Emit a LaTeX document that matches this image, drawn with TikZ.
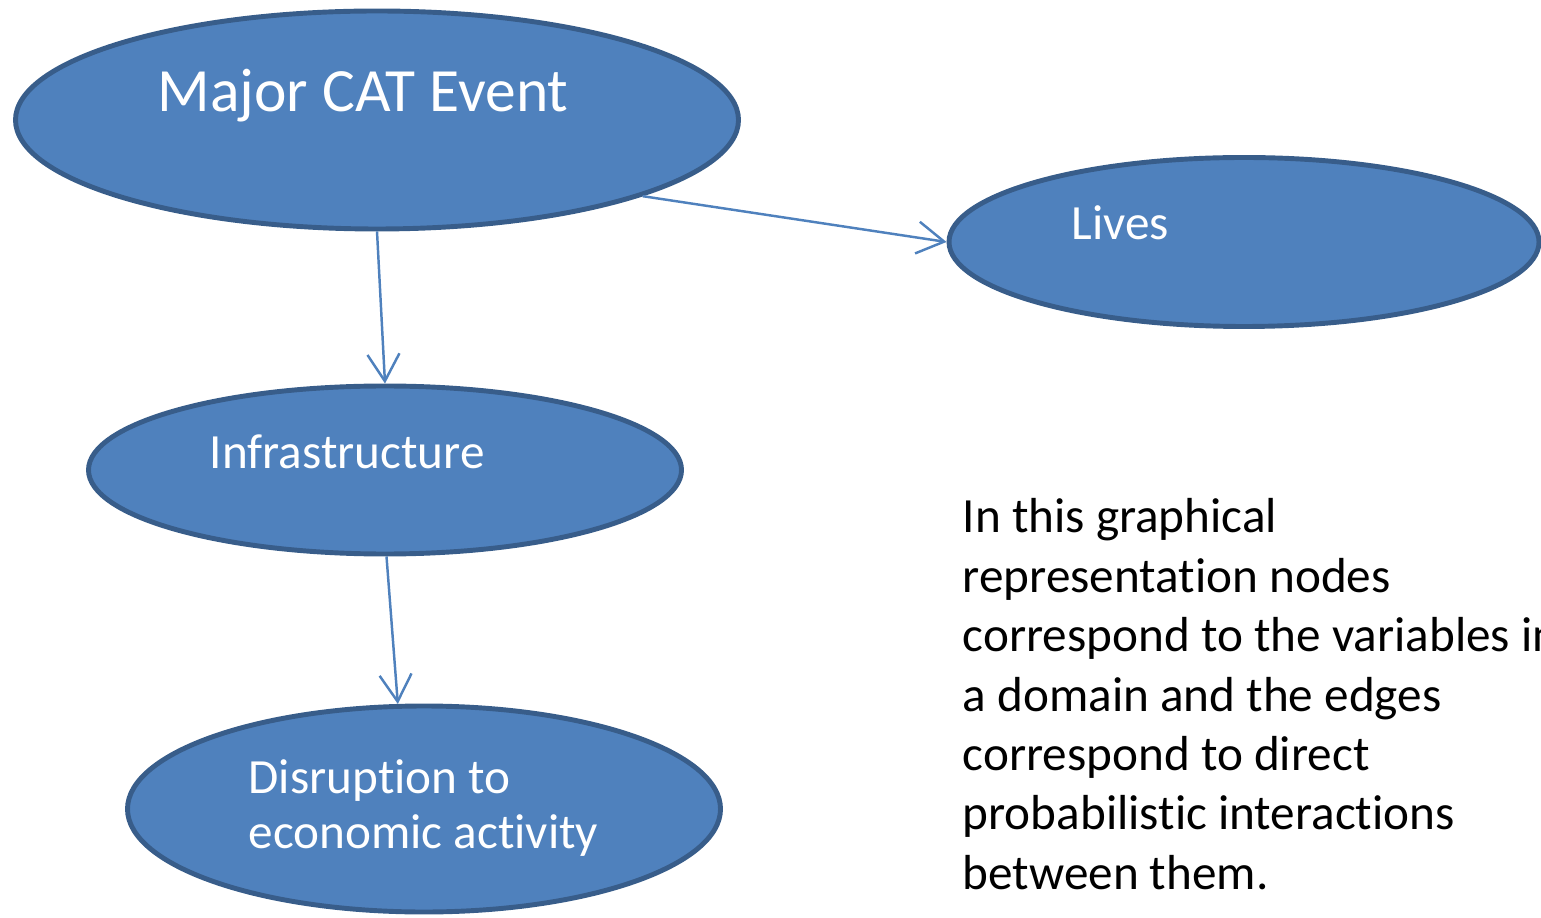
\documentclass[tikz,border=0pt]{standalone}
\usepackage{fontspec}
\setmainfont{Carlito}[RawFeature={-liga;-clig;-calt;-dlig}]
\usetikzlibrary{shapes.geometric,arrows.meta}
\definecolor{nodeblue}{HTML}{4F81BD}
\definecolor{nodeedge}{HTML}{385D8A}
\begin{document}
\begin{tikzpicture}[x=0.1mm,y=-0.1mm,font=\fontsize{14}{17}\selectfont,
	var/.style={ellipse, draw=nodeedge, line width=1.4pt, fill=nodeblue, inner sep=0pt},
	lbl/.style={text=white, anchor=base west, inner sep=0pt},
	edge/.style={draw=nodeblue, line width=0.7pt, -{Straight Barb[length=2.7mm,width=3.2mm]}}]
		% Canvas
		\path[use as bounding box, clip] (0,0) rectangle (1541,918);
		
		% Variables
		\node[var, minimum width=72.3mm, minimum height=21.8mm] (major) at (377,120) {};
		\node[var, minimum width=59mm, minimum height=16.9mm] (lives) at (1244,242) {};
		\node[var, minimum width=59.3mm, minimum height=16.8mm] (infra) at (385,470) {};
		\node[var, minimum width=59.3mm, minimum height=20.6mm] (disr) at (424,809) {};
		
		% Labels
		\node[lbl, font=\fontsize{17.5}{20}\selectfont] (majortxt) at (157,112) {Major CAT Event};
		\node[lbl] (livestxt) at (1071,240) {Lives};
		\node[lbl] (infratxt) at (209,468) {Infrastructure};
		\node[lbl, align=left, font=\fontsize{14}{15.6}\selectfont] (disrtxt) at (248,848) {Disruption to\\economic activity}; % base = last line
		
		% Edges
		\draw[edge] (major.-16) -- (lives.west);
		\draw[edge] (major.south) -- (infra.north);
		\draw[edge] (infra.-89) -- (disr.104); % lands left of centre
		
		% Note on the right
		\node[anchor=north west, align=left, inner sep=0pt, font=\fontsize{14}{16.9}\selectfont] (note) at (962,498)
			{In this graphical\\representation nodes\\correspond to the variables in\\a domain and the edges\\correspond to direct\\probabilistic interactions\\between them.};
		
	\end{tikzpicture}
\end{document}
